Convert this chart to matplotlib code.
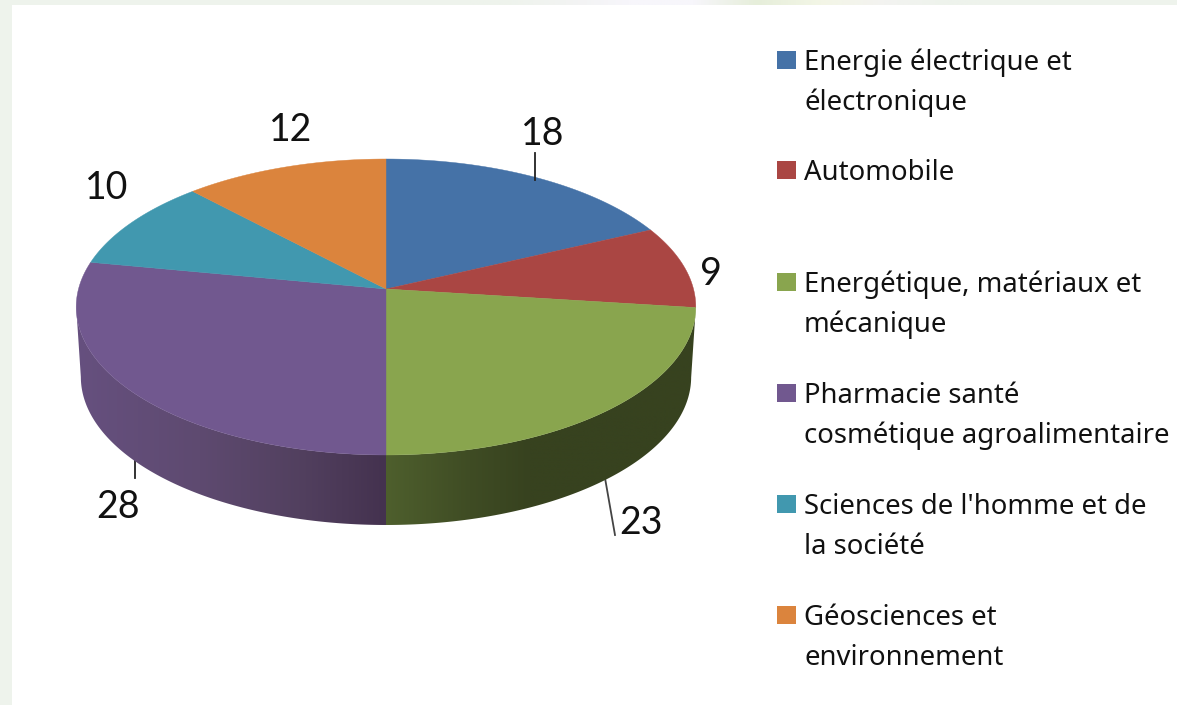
import numpy as np
import matplotlib
matplotlib.use('Agg')
import matplotlib.pyplot as plt
from matplotlib.colors import to_rgb
from matplotlib.patches import Rectangle, Polygon

values = [18, 9, 23, 28, 10, 12]
labels = ["Energie électrique et\nélectronique", "Automobile", "Energétique, matériaux et\nmécanique",
          "Pharmacie santé\ncosmétique agroalimentaire", "Sciences de l'homme et de\nla société",
          "Géosciences et\nenvironnement"]
colors = ['#4572A7', '#AA4643', '#89A54E', '#71588F', '#4198AF', '#DB843D']

# layout, in pixels of the picture
label_pos = [(543, 134), (711, 274), (641, 523), (118, 507), (107, 188), (291, 130)]
legend_y = [60, 170, 282, 393, 504, 615]
cx, cy = 386, 289
a, b, k = 145.8, 307.5, 0.1216
depth = 70

def rim(theta, scale=1.0, drop=0):
    # tilted circle, the pie centre is not the middle of the ellipse
    w = 1 + k * np.cos(theta)
    return cx + scale * b * np.sin(theta) / w, cy - a * np.cos(theta) / w + drop

fig = plt.figure(figsize=(11.77, 7.05), dpi=100, facecolor='#EEF3EC')
ax = fig.add_axes([0, 0, 1, 1])

# washed out page background at the top
top_band = np.array([[to_rgb(c) for c in ['#EEF3EC', '#F2F3F2', '#F7F6FB', '#F7F6FB', '#E6EEDA', '#F3F6E6', '#F3F3F1', '#EEF3EC']]])
ax.imshow(top_band, extent=(470, 980, 5, 0), aspect='auto', interpolation='bilinear', zorder=1)
ax.add_patch(Rectangle((12, 5), 1165, 700, fc='white', ec='none', zorder=2))

# side of the disc, getting darker towards the middle
edges = np.cumsum([0] + values) / sum(values) * 2 * np.pi
turn_right = np.arccos(-k)  # where the rim is widest
turn_left = 2 * np.pi - turn_right
side_shade = {2: [(386, '#4E5F2D'), (470, '#3F4C24'), (530, '#37421F'), (700, '#37421F')],
              3: [(76, '#66507F'), (200, '#5E4A70'), (300, '#52405F'), (386, '#44324F')]}
for i in side_shade:
    xs = [p[0] for p in side_shade[i]]
    rgb = np.array([to_rgb(p[1]) for p in side_shade[i]])
    th = np.linspace(max(edges[i], turn_right), min(edges[i + 1], turn_left), 300)
    x0, y0 = rim(th)
    x1, y1 = rim(th, 0.985, depth)
    outline = np.c_[np.r_[x0, x1[::-1]], np.r_[y0, y1[::-1]]]
    left, right = outline[:, 0].min(), outline[:, 0].max()
    px = np.arange(left, right + 1)
    grad = np.stack([np.interp(px, xs, rgb[:, j]) for j in range(3)], axis=1)[None, :, :]
    clip = Polygon(outline, closed=True, transform=ax.transData)
    im = ax.imshow(grad, extent=(left, right, outline[:, 1].max(), outline[:, 1].min()),
                   aspect='auto', interpolation='bilinear', zorder=3)
    im.set_clip_path(clip)

# top of the disc
for i, v in enumerate(values):
    th = np.linspace(edges[i], edges[i + 1], 200)
    x, y = rim(th)
    ax.fill(np.r_[cx, x], np.r_[cy, y], color=colors[i], lw=0.3, zorder=4)

# leader lines
ax.plot([535, 535], [153, 180], color='#222222', lw=1.3, zorder=5)
ax.plot([135, 135], [459, 478], color='#222222', lw=1.3, zorder=2.5)
ax.plot([605, 615], [478, 535], color='#444444', lw=1.3, zorder=2.5)

for v, (x, y) in zip(values, label_pos):
    ax.text(x, y, str(v), family='Lato', fontsize=27, color='#111111', ha='center', va='center', zorder=6)

for i, (lab, y) in enumerate(zip(labels, legend_y)):
    ax.add_patch(Rectangle((777, y - 9), 19, 18, fc=colors[i], ec='none', zorder=5))
    for j, line in enumerate(lab.split('\n')):
        ax.text(804, y + 3 + j * 40, line, family='Noto Sans', fontsize=19.8, color='#111111', ha='left', va='center', zorder=6)

ax.set_xlim(0, 1177)
ax.set_ylim(705, 0)
ax.axis('off')
fig.savefig('out.png', dpi=100)
